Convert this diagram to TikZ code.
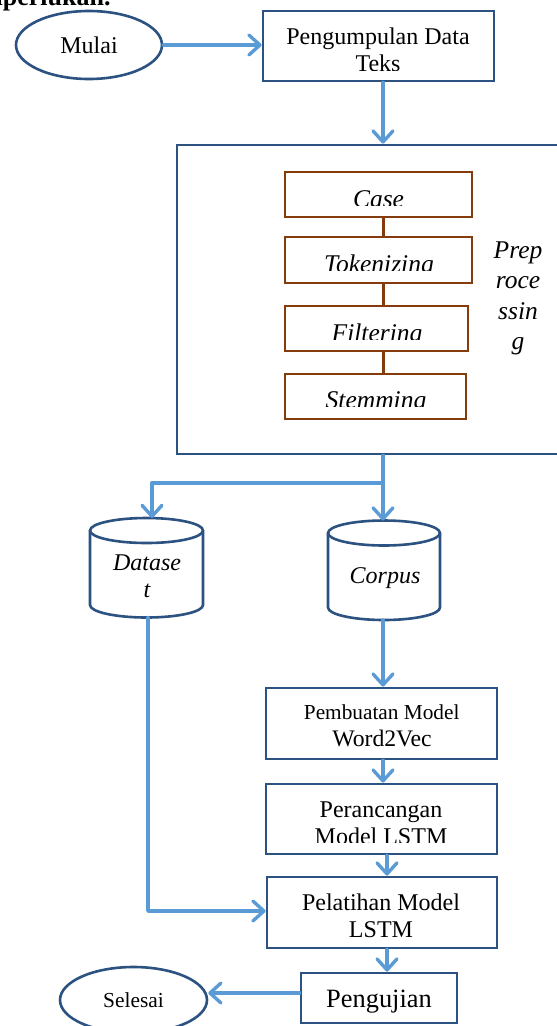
\documentclass[tikz,border=0pt]{standalone}
\usepackage{fontspec}
\setmainfont{Liberation Serif}
\usetikzlibrary{arrows.meta,shapes.geometric}
\definecolor{dblue}{RGB}{44,82,130}
\definecolor{lblue}{RGB}{91,155,213}
\definecolor{brn}{RGB}{132,60,12}
\begin{document}
\begin{tikzpicture}[x=1pt,y=-1pt,
 dbox/.style={draw=dblue, line width=2.8pt, inner sep=0pt, fill=white},
 bbox/.style={draw=brn, line width=2.8pt, inner sep=0pt, fill=white},
 oval/.style={ellipse, draw=dblue, line width=2.6pt, inner sep=0pt, fill=white},
 arr/.style={draw=lblue, line width=3.4pt, line cap=round, line join=round, -{Straight Barb[length=11pt,width=20pt,round]}},
 lb/.style={draw=lblue, line width=3.4pt, line cap=round},
 bl/.style={draw=brn, line width=3pt},
 cyl/.style={draw=dblue, line width=2.6pt},
 tx/.style={inner sep=0pt, anchor=base, font=\fontsize{24}{28}\selectfont},
 itx/.style={inner sep=0pt, anchor=base, font=\fontsize{25.5}{30}\selectfont\itshape},
 ctx/.style={inner sep=0pt, anchor=base, font=\fontsize{24}{28}\selectfont\itshape},
]
\useasboundingbox (0,0) rectangle (557,1026);
\clip (0,0) rectangle (557,1026);

% stray caption fragment
\node[inner sep=0pt, anchor=base west, font=\fontsize{26}{30}\selectfont\bfseries] (cap) at (-19,5) {diperlukan.};

% start
\node[oval, minimum width=146pt, minimum height=68pt, font=\fontsize{24}{28}\selectfont] (mulai) at (89,45) {Mulai};

% data collection
\node[dbox, minimum width=231pt, minimum height=70pt] (peng) at (378.5,46) {};
\node[tx] (pengT1) at (378,44) {Pengumpulan Data};
\begin{scope}
\clip (265,13) rectangle (492,70);
\node[tx] (pengT2) at (378,71) {Teks};
\end{scope}

% preprocessing frame
\node[dbox, minimum width=423pt, minimum height=309pt] (pre) at (388.5,299.5) {};

\node[bbox, minimum width=187pt, minimum height=45pt] (case) at (378.5,194.5) {};
\node[bbox, minimum width=187pt, minimum height=46pt] (tok) at (378.5,260) {};
\node[bbox, minimum width=183pt, minimum height=45pt] (filt) at (376.5,328.5) {};
\node[bbox, minimum width=181pt, minimum height=45pt] (stem) at (375.5,396.5) {};

\draw[bl] ([xshift=5pt]case.south) -- ([xshift=5pt]case.south |- tok.north);
\draw[bl] ([xshift=5pt]tok.south) -- ([xshift=5pt]tok.south |- filt.north);
\draw[bl] ([xshift=7pt]filt.south) -- ([xshift=7pt]filt.south |- stem.north);

\begin{scope}
\clip (287,174) rectangle (470,205.5);
\node[itx] (caseT) at (378.5,207.5) {Case};
\end{scope}
\begin{scope}
\clip (287,239) rectangle (470,270.5);
\node[itx] (tokT) at (379,272.5) {Tokenizing};
\end{scope}
\begin{scope}
\clip (287,308) rectangle (466,339.5);
\node[itx] (filtT) at (377,341.5) {Filtering};
\end{scope}
\begin{scope}
\clip (287,376) rectangle (464,406.5);
\node[itx] (stemT) at (376,408.5) {Stemming};
\end{scope}

\node[itx] (preL1) at (518,258) {Prep};
\node[itx] (preL2) at (518,288.5) {roce};
\node[itx] (preL3) at (518,319) {ssin};
\node[itx] (preL4) at (518,349.5) {g};

% cylinders
\filldraw[cyl, fill=white] (90,530.5) -- (90,605) arc[start angle=180,end angle=360,x radius=56.5pt,y radius=12.5pt] -- (203,530.5);
\draw[cyl] (146.5,530.5) ellipse [x radius=56.5pt, y radius=12.5pt];
\node[ctx] (dsT1) at (147,570) {Datase};
\node[ctx] (dsT2) at (147,597) {t};

\filldraw[cyl, fill=white] (328,533) -- (328,607.5) arc[start angle=180,end angle=360,x radius=56pt,y radius=12.5pt] -- (440,533);
\draw[cyl] (384,533) ellipse [x radius=56pt, y radius=12.5pt];
\node[ctx] (cpT) at (385,583) {Corpus};

\coordinate (dsTop) at (152,518);
\coordinate (dsBot) at (148,617.5);
\coordinate (cpTop) at (383,520.5);
\coordinate (cpBot) at (383,620);
\coordinate (split) at (383,483);

% lower boxes
\node[dbox, minimum width=231pt, minimum height=71pt] (pemb) at (381.5,723.5) {};
\node[tx, font=\fontsize{21.3}{25}\selectfont] (pembT1) at (381.7,719) {Pembuatan Model};
\node[tx, font=\fontsize{23.7}{28}\selectfont] (pembT2) at (382,746) {Word2Vec};

\node[dbox, minimum width=231pt, minimum height=70pt] (peran) at (381.5,819) {};
\node[tx] (peranT1) at (381,817) {Perancangan};
\begin{scope}
\clip (268,786) rectangle (495,842);
\node[tx] (peranT2) at (381,844) {Model LSTM};
\end{scope}

\node[dbox, minimum width=230pt, minimum height=71pt] (pel) at (382,912.5) {};
\node[tx] (pelT1) at (381,910) {Pelatihan Model};
\node[tx] (pelT2) at (381,937) {LSTM};

\node[dbox, minimum width=156pt, minimum height=50pt] (uji) at (379,998) {};
\node[tx, font=\fontsize{26.4}{30}\selectfont] (ujiT) at (379,1007) {Pengujian};

\node[oval, minimum width=147pt, minimum height=66pt, font=\fontsize{21.4}{25}\selectfont] (selesai) at (133.5,1000) {Selesai};

% connectors
\draw[arr] (mulai.east) -- (mulai.east -| peng.west);
\draw[arr] (peng.south -| split) -- (split |- pre.north);
\draw[lb] (pre.south -| split) -- (split);
\draw[arr] (split) -- (cpTop);
\draw[arr] (split) -| (dsTop);
\draw[arr] (cpBot) -- (cpBot |- pemb.north);
\draw[arr] (pemb.south -| cpBot) -- (peran.north -| cpBot);
\draw[arr] ([xshift=5.5pt]peran.south) -- ([xshift=5.5pt]peran.south |- pel.north);
\draw[arr] ([xshift=5pt]pel.south) -- ([xshift=5pt]pel.south |- uji.north);
\draw[arr] ([yshift=5pt]uji.west) -- ([yshift=5pt]uji.west -| selesai.east);
\draw[arr] (dsBot) |- ([yshift=1.5pt]pel.west);
\end{tikzpicture}
\end{document}
